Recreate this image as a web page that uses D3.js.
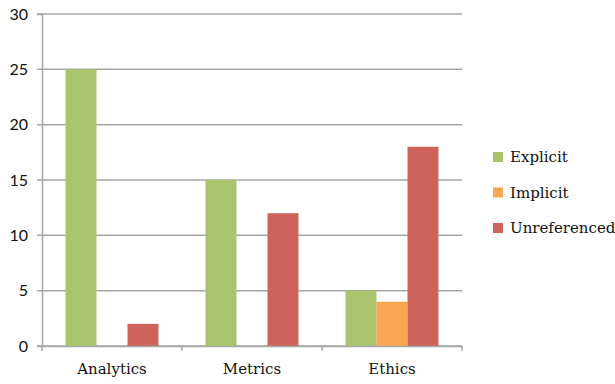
<!DOCTYPE html>
<html>
<head>
<meta charset="utf-8">
<script src="https://cdn.jsdelivr.net/npm/d3@7"></script>
<style>
  body { margin: 0; background: #fff; }
</style>
</head>
<body>
<div class="canvas"></div>
<script>
const categories = ["Analytics", "Metrics", "Ethics"]
const series = ["Explicit", "Implicit", "Unreferenced"]
const explicitVals = [25, 15, 5]
const implicitVals = [0, 0, 4]
const unrefVals = [2, 12, 18]
const yTicks = [0, 5, 10, 15, 20, 25, 30]
const colorList = ["#a9c46b", "#f9a552", "#cd635b"]

const values = [explicitVals, implicitVals, unrefVals]
const rows = categories.map((c, i) => ({
  cat: c,
  vals: series.map((s, j) => ({ key: s, value: values[j][i] }))
}))

const svg = d3
  .select(".canvas")
  .append("svg")
  .attr("width", 615)
  .attr("height", 384)
  .style("background", "#fff")

const plotLeft = 42, plotRight = 462, plotTop = 14, plotBottom = 346

let x0 = d3.scaleBand().domain(categories).range([plotLeft, plotRight]).padding(0)
let x1 = d3
  .scaleBand()
  .domain(series)
  .range([0, x0.bandwidth()])
  .paddingInner(0)
  .paddingOuter(0.76)
let y = d3.scaleLinear().domain([0, 30]).range([plotBottom, plotTop])
let color = d3.scaleOrdinal().domain(series).range(colorList)

// gridlines
svg
  .append("g")
  .selectAll("line")
  .data(yTicks)
  .enter()
  .append("line")
  .attr("x1", plotLeft - 5)
  .attr("x2", plotRight)
  .attr("y1", d => y(d))
  .attr("y2", d => y(d))
  .attr("stroke", "#a6a6a6")
  .attr("stroke-width", 1.5)

// bars
let groups = svg
  .append("g")
  .selectAll("g")
  .data(rows)
  .enter()
  .append("g")
  .attr("transform", d => `translate(${x0(d.cat)},0)`)
groups
  .selectAll("rect")
  .data(d => d.vals.filter(v => v.value > 0))
  .enter()
  .append("rect")
  .attr("x", d => x1(d.key))
  .attr("width", x1.bandwidth())
  .attr("y", d => y(d.value))
  .attr("height", d => y(0) - y(d.value))
  .attr("fill", d => color(d.key))

// y axis
let yAxis = svg
  .append("g")
  .attr("transform", `translate(${plotLeft},0)`)
  .call(d3.axisLeft(y).tickValues(yTicks).tickSize(5).tickPadding(9))
yAxis.select(".domain").attr("stroke", "#a6a6a6").attr("stroke-width", 1.5)
yAxis.selectAll(".tick line").remove()
yAxis
  .selectAll("text")
  .style("font-family", "Lato, 'Open Sans', sans-serif")
  .style("font-size", "16px")
  .attr("fill", "#111")

// x axis
let xAxis = svg
  .append("g")
  .attr("transform", `translate(0,${plotBottom})`)
  .call(d3.axisBottom(x0).tickSize(0).tickPadding(17))
xAxis.select(".domain").attr("stroke", "#a6a6a6").attr("stroke-width", 1.5)
xAxis
  .selectAll("text")
  .style("font-family", "'DejaVu Serif', serif")
  .style("font-size", "15px")
  .attr("fill", "#111")
xAxis
  .selectAll(".sep")
  .data(d3.range(categories.length + 1))
  .enter()
  .append("line")
  .attr("x1", i => plotLeft + i * x0.step())
  .attr("x2", i => plotLeft + i * x0.step())
  .attr("y1", 0)
  .attr("y2", 5)
  .attr("stroke", "#a6a6a6")
  .attr("stroke-width", 1.5)

// legend
let legend = svg
  .append("g")
  .selectAll("g")
  .data(series)
  .enter()
  .append("g")
  .attr("transform", (d, i) => `translate(493,${152 + i * 35.5})`)
legend
  .append("rect")
  .attr("width", 10)
  .attr("height", 10)
  .attr("fill", d => color(d))
legend
  .append("text")
  .attr("x", 17)
  .attr("y", 5)
  .attr("dy", "0.35em")
  .style("font-family", "'DejaVu Serif', serif")
  .style("font-size", "15px")
  .attr("fill", "#111")
  .text(d => d)
</script>
</body>
</html>
